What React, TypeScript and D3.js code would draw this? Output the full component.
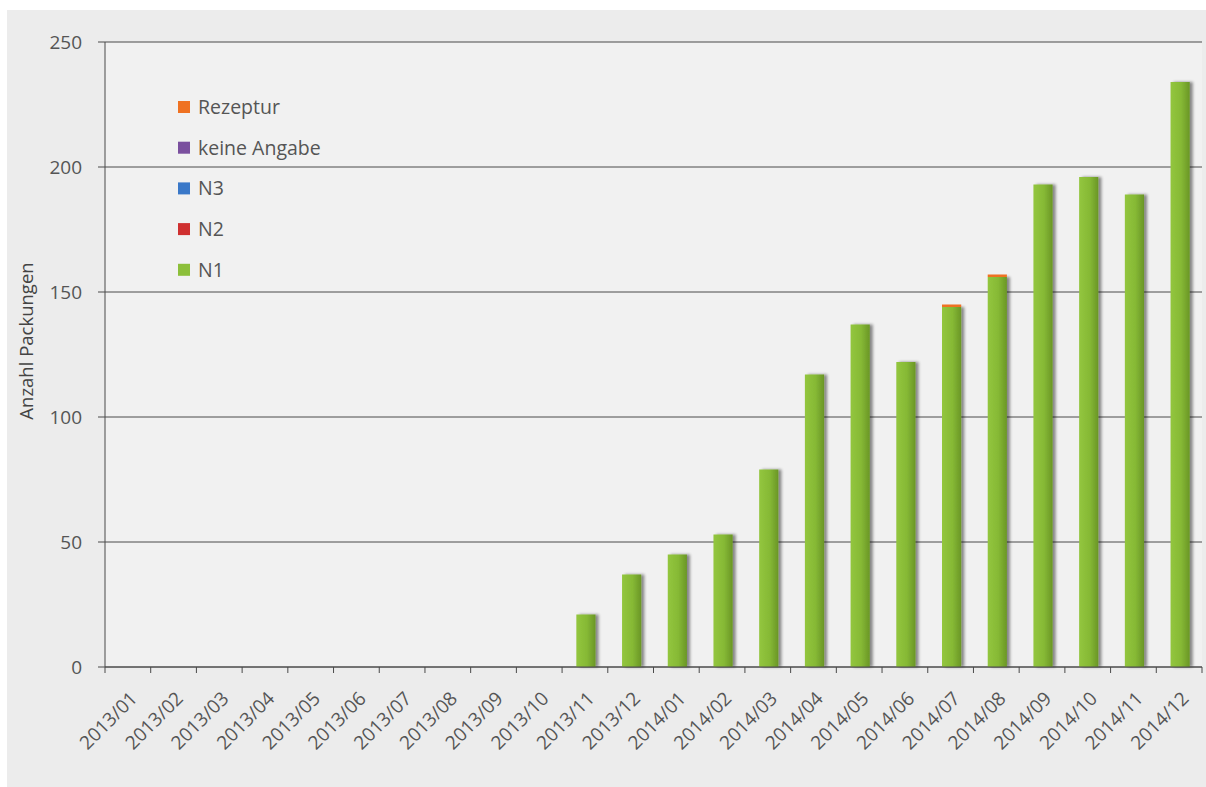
import React from "react";
import * as d3 from "d3";

const months = [
  "2013/01","2013/02","2013/03","2013/04","2013/05","2013/06","2013/07","2013/08","2013/09","2013/10","2013/11","2013/12",
  "2014/01","2014/02","2014/03","2014/04","2014/05","2014/06","2014/07","2014/08","2014/09","2014/10","2014/11","2014/12",
];
const n1 = [0,0,0,0,0,0,0,0,0,0,21,37,45,53,79,117,137,122,144,156,193,196,189,234];
const n2 = [0,0,0,0,0,0,0,0,0,0,0,0,0,0,0,0,0,0,0,0,0,0,0,0];
const n3 = [0,0,0,0,0,0,0,0,0,0,0,0,0,0,0,0,0,0,0,0,0,0,0,0];
const keineAngabe = [0,0,0,0,0,0,0,0,0,0,0,0,0,0,0,0,0,0,0,0,0,0,0,0];
const rezeptur = [0,0,0,0,0,0,0,0,0,0,0,0,0,0,0,0,0,0,1,1,0,0,0,0];
const yTicks = [0, 50, 100, 150, 200, 250];

const seriesNames = ["N1", "N2", "N3", "keine Angabe", "Rezeptur"];
const seriesColors = ["#8cbf3a", "#cf3030", "#3a78c8", "#7a4f9e", "#ef7222"];
const legendOrder = ["Rezeptur", "keine Angabe", "N3", "N2", "N1"];

const W = 1206, H = 787;
const M = { left: 105, right: 1202, top: 42, bottom: 667 };
const FONT = "'Open Sans', 'DejaVu Sans', sans-serif";

export default function App() {
  const x = d3.scaleBand<string>().domain(months).range([M.left, M.right]).paddingInner(0.58).paddingOuter(0.29);
  const y = d3.scaleLinear().domain([0, 250]).range([M.bottom, M.top]);
  const rows = months.map((m, i) => ({
    month: m, N1: n1[i], N2: n2[i], N3: n3[i], "keine Angabe": keineAngabe[i], Rezeptur: rezeptur[i],
  }));
  const stack = d3.stack<any>().keys(seriesNames)(rows);
  const step = x.step();
  const boundaries = d3.range(months.length + 1).map((i) => M.left + i * step);

  return (
    <svg width={W} height={H} style={{ position: "absolute", left: 0, top: 0 }}>
      <defs>
        <linearGradient id="gGreen" x1="0" x2="1" y1="0" y2="0">
          <stop offset="0" stopColor="#93c63e" />
          <stop offset="0.55" stopColor="#86b935" />
          <stop offset="1" stopColor="#6a9626" />
        </linearGradient>
        <filter id="shadow" x="-30%" y="-5%" width="170%" height="110%">
          <feGaussianBlur in="SourceAlpha" stdDeviation="1.6" />
          <feOffset dx="3" dy="0" result="b" />
          <feComponentTransfer><feFuncA type="linear" slope="0.45" /></feComponentTransfer>
          <feMerge><feMergeNode /><feMergeNode in="SourceGraphic" /></feMerge>
        </filter>
      </defs>
      <rect x={0} y={0} width={W} height={H} fill="#ffffff" />
      <rect x={7} y={10} width={W - 7} height={H - 10} fill="#ececec" />
      <rect x={M.left} y={M.top} width={M.right - M.left} height={M.bottom - M.top} fill="#f1f1f1" />

      {yTicks.map((t) => (
        <g key={t}>
          <line x1={M.left - 7} x2={M.right} y1={y(t)} y2={y(t)} stroke="#4a4a4a" strokeWidth={1} />
          <text x={82} y={y(t)} dy="0.35em" textAnchor="end" fontFamily={FONT} fontSize={19} fill="#555">{t}</text>
        </g>
      ))}
      <line x1={M.left} x2={M.left} y1={M.top} y2={M.bottom} stroke="#4a4a4a" strokeWidth={1} />

      {stack.map((layer, si) => (
        <g key={seriesNames[si]} filter={si === 0 ? "url(#shadow)" : undefined}>
          {layer.map((d, i) => {
            const h = y(d[0]) - y(d[1]);
            if (h <= 0) return null;
            return (
              <rect key={i} x={(x(months[i]) as number) + 1} y={y(d[1])} width={x.bandwidth()} height={h}
                fill={si === 0 ? "url(#gGreen)" : seriesColors[si]} />
            );
          })}
        </g>
      ))}

      <line x1={M.left} x2={M.right} y1={M.bottom} y2={M.bottom} stroke="#4a4a4a" strokeWidth={1.2} />
      {boundaries.map((bx, i) => (
        <line key={i} x1={bx} x2={bx} y1={M.bottom} y2={M.bottom + 6} stroke="#4a4a4a" strokeWidth={1} />
      ))}
      {months.map((m) => {
        const cx = (x(m) as number) + x.bandwidth() / 2 + 6;
        const cy = M.bottom + 28;
        return (
          <text key={m} transform={`translate(${cx},${cy}) rotate(-45)`} textAnchor="end" dy="0.35em"
            fontFamily={FONT} fontSize={19} fill="#555">{m}</text>
        );
      })}

      <text transform={`translate(27,341) rotate(-90)`} textAnchor="middle" dy="0.35em" fontFamily={FONT} fontSize={18.5} fill="#444">Anzahl Packungen</text>

      {legendOrder.map((name, i) => {
        const si = seriesNames.indexOf(name);
        const ly = 107 + i * 40.7;
        return (
          <g key={name}>
            <rect x={178} y={ly - 6} width={12} height={12} fill={seriesColors[si]} />
            <text x={198} y={ly} dy="0.35em" fontFamily={FONT} fontSize={19.5} fill="#555">{name}</text>
          </g>
        );
      })}
    </svg>
  );
}
